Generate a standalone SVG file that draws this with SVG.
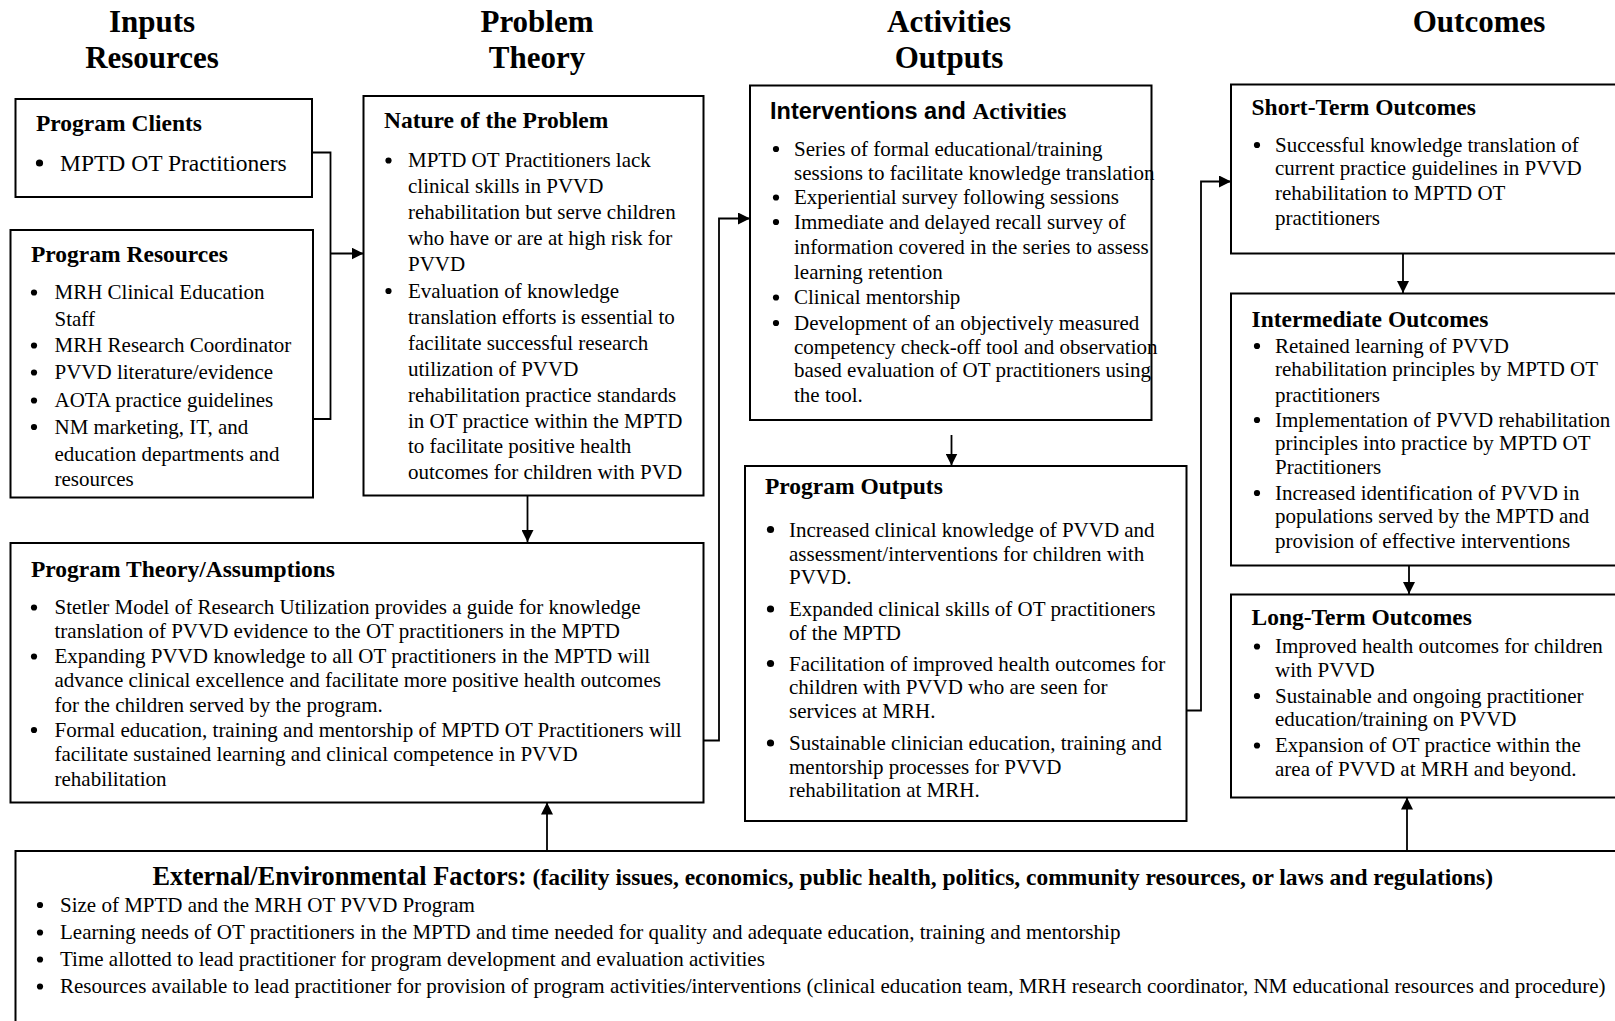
<svg xmlns="http://www.w3.org/2000/svg" width="1615" height="1021" viewBox="0 0 1615 1021">
<style>
.box{fill:#fff;stroke:#000;stroke-width:2}
.hd{font-family:"Liberation Serif","Times New Roman",serif;font-weight:bold;font-size:31px;text-anchor:middle}
.t{font-family:"Liberation Serif","Times New Roman",serif;font-weight:bold;font-size:23.5px}
.b{font-family:"Liberation Serif","Times New Roman",serif;font-size:21px}
.c{fill:none;stroke:#000;stroke-width:1.8}
</style>
<defs>
<marker id="ah" viewBox="0 0 10 10" refX="10" refY="5" markerWidth="12" markerHeight="12" markerUnits="userSpaceOnUse" orient="auto">
<path d="M0,0 L10,5 L0,10 z" fill="#000"/>
</marker>
<circle id="bu" r="3.1" fill="#000"/>
<circle id="bl" r="3.6" fill="#000"/>
</defs>
<rect width="1615" height="1021" fill="#fff"/>

<g id="headings">
<text class="hd" x="152" y="32">Inputs</text>
<text class="hd" x="152" y="68">Resources</text>
<text class="hd" x="537" y="32">Problem</text>
<text class="hd" x="537" y="68">Theory</text>
<text class="hd" x="949" y="32">Activities</text>
<text class="hd" x="949" y="68">Outputs</text>
<text class="hd" x="1479" y="32">Outcomes</text>
</g>

<g id="connectors">
<polyline class="c" points="313,152.5 330.5,152.5 330.5,419 313,419"/>
<line class="c" x1="330.5" y1="253.5" x2="363.5" y2="253.5" marker-end="url(#ah)"/>
<line class="c" x1="527.5" y1="495.5" x2="527.5" y2="542" marker-end="url(#ah)"/>
<polyline class="c" points="703.5,740.5 719,740.5 719,218.5 750,218.5" marker-end="url(#ah)"/>
<line class="c" x1="951.5" y1="435" x2="951.5" y2="465.5" marker-end="url(#ah)"/>
<polyline class="c" points="1186.5,710.5 1201,710.5 1201,181.5 1231,181.5" marker-end="url(#ah)"/>
<line class="c" x1="1403" y1="253.5" x2="1403" y2="293" marker-end="url(#ah)"/>
<line class="c" x1="1409" y1="565.5" x2="1409" y2="594" marker-end="url(#ah)"/>
<line class="c" x1="1407" y1="851" x2="1407" y2="797.5" marker-end="url(#ah)"/>
<line class="c" x1="547" y1="851" x2="547" y2="802.5" marker-end="url(#ah)"/>
</g>

<g id="program-clients">
<rect class="box" x="15.5" y="99" width="296.5" height="98"/>
<text class="t" x="36" y="131">Program Clients</text>
<use href="#bl" x="39.5" y="163"/>
<text class="b" x="60" y="171" style="font-size:23.5px">MPTD OT Practitioners</text>
</g>

<g id="program-resources">
<rect class="box" x="10.5" y="230" width="302.5" height="267.5"/>
<text class="t" x="31" y="262">Program Resources</text>
<use href="#bu" x="34" y="292.5"/><use href="#bu" x="34" y="345.5"/><use href="#bu" x="34" y="372.5"/><use href="#bu" x="34" y="400.5"/><use href="#bu" x="34" y="427"/>
<g class="b">
<text x="54.5" y="299">MRH Clinical Education</text>
<text x="54.5" y="325.5">Staff</text>
<text x="54.5" y="352">MRH Research Coordinator</text>
<text x="54.5" y="379">PVVD literature/evidence</text>
<text x="54.5" y="407">AOTA practice guidelines</text>
<text x="54.5" y="433.5">NM marketing, IT, and</text>
<text x="54.5" y="460.5">education departments and</text>
<text x="54.5" y="486">resources</text>
</g>
</g>

<g id="nature-of-problem">
<rect class="box" x="363.5" y="96" width="340" height="399.5"/>
<text class="t" x="384" y="128">Nature of the Problem</text>
<use href="#bu" x="388.5" y="160.5"/><use href="#bu" x="388.5" y="291"/>
<g class="b">
<text x="408" y="167">MPTD OT Practitioners lack</text>
<text x="408" y="193">clinical skills in PVVD</text>
<text x="408" y="219">rehabilitation but serve children</text>
<text x="408" y="245">who have or are at high risk for</text>
<text x="408" y="271">PVVD</text>
<text x="408" y="297.5">Evaluation of knowledge</text>
<text x="408" y="323.5">translation efforts is essential to</text>
<text x="408" y="349.5">facilitate successful research</text>
<text x="408" y="375.5">utilization of PVVD</text>
<text x="408" y="401.5">rehabilitation practice standards</text>
<text x="408" y="427.5">in OT practice within the MPTD</text>
<text x="408" y="453">to facilitate positive health</text>
<text x="408" y="479">outcomes for children with PVD</text>
</g>
</g>

<g id="program-theory">
<rect class="box" x="10.5" y="543" width="693" height="259.5"/>
<text class="t" x="31" y="577">Program Theory/Assumptions</text>
<use href="#bu" x="34" y="607.5"/><use href="#bu" x="34" y="656.5"/><use href="#bu" x="34" y="730"/>
<g class="b">
<text x="54.5" y="614">Stetler Model of Research Utilization provides a guide for knowledge</text>
<text x="54.5" y="638">translation of PVVD evidence to the OT practitioners in the MPTD</text>
<text x="54.5" y="663">Expanding PVVD knowledge to all OT practitioners in the MPTD will</text>
<text x="54.5" y="687">advance clinical excellence and facilitate more positive health outcomes</text>
<text x="54.5" y="711.5">for the children served by the program.</text>
<text x="54.5" y="736.5">Formal education, training and mentorship of MPTD OT Practitioners will</text>
<text x="54.5" y="761">facilitate sustained learning and clinical competence in PVVD</text>
<text x="54.5" y="786">rehabilitation</text>
</g>
</g>

<g id="interventions-activities">
<rect class="box" x="750" y="85.5" width="401.5" height="334.5"/>
<text class="t" x="770" y="118.5"><tspan style="font-family:'Liberation Sans',Arial,sans-serif">Interventions and </tspan>Activities</text>
<use href="#bu" x="776" y="149"/><use href="#bu" x="776" y="197.5"/><use href="#bu" x="776" y="222"/><use href="#bu" x="776" y="297.5"/><use href="#bu" x="776" y="323"/>
<g class="b">
<text x="794" y="155.5">Series of formal educational/training</text>
<text x="794" y="179.5">sessions to facilitate knowledge translation</text>
<text x="794" y="204">Experiential survey following sessions</text>
<text x="794" y="228.5">Immediate and delayed recall survey of</text>
<text x="794" y="253.5">information covered in the series to assess</text>
<text x="794" y="279">learning retention</text>
<text x="794" y="304">Clinical mentorship</text>
<text x="794" y="329.5">Development of an objectively measured</text>
<text x="794" y="353.5">competency check-off tool and observation</text>
<text x="794" y="377">based evaluation of OT practitioners using</text>
<text x="794" y="401.5">the tool.</text>
</g>
</g>

<g id="program-outputs">
<rect class="box" x="745" y="466" width="441.5" height="355"/>
<text class="t" x="765" y="493.5">Program Outputs</text>
<use href="#bl" x="770.5" y="529.5"/><use href="#bl" x="770.5" y="609"/><use href="#bl" x="770.5" y="663.5"/><use href="#bl" x="770.5" y="743"/>
<g class="b">
<text x="789" y="536.5">Increased clinical knowledge of PVVD and</text>
<text x="789" y="560.5">assessment/interventions for children with</text>
<text x="789" y="584">PVVD.</text>
<text x="789" y="616">Expanded clinical skills of OT practitioners</text>
<text x="789" y="639.5">of the MPTD</text>
<text x="789" y="670.5">Facilitation of improved health outcomes for</text>
<text x="789" y="694">children with PVVD who are seen for</text>
<text x="789" y="718">services at MRH.</text>
<text x="789" y="750">Sustainable clinician education, training and</text>
<text x="789" y="773.5">mentorship processes for PVVD</text>
<text x="789" y="797">rehabilitation at MRH.</text>
</g>
</g>

<g id="short-term-outcomes">
<rect class="box" x="1231" y="84.5" width="400" height="169"/>
<text class="t" x="1251.5" y="114.5">Short-Term Outcomes</text>
<use href="#bu" x="1257" y="145"/>
<g class="b">
<text x="1275" y="151.5">Successful knowledge translation of</text>
<text x="1275" y="175">current practice guidelines in PVVD</text>
<text x="1275" y="200">rehabilitation to MPTD OT</text>
<text x="1275" y="224.5">practitioners</text>
</g>
</g>

<g id="intermediate-outcomes">
<rect class="box" x="1231" y="293.5" width="400" height="272"/>
<text class="t" x="1251.5" y="326.5">Intermediate Outcomes</text>
<use href="#bu" x="1257" y="346"/><use href="#bu" x="1257" y="420"/><use href="#bu" x="1257" y="493"/>
<g class="b">
<text x="1275" y="352.5">Retained learning of PVVD</text>
<text x="1275" y="376">rehabilitation principles by MPTD OT</text>
<text x="1275" y="401.5">practitioners</text>
<text x="1275" y="426.5">Implementation of PVVD rehabilitation</text>
<text x="1275" y="450">principles into practice by MPTD OT</text>
<text x="1275" y="474">Practitioners</text>
<text x="1275" y="499.5">Increased identification of PVVD in</text>
<text x="1275" y="523">populations served by the MPTD and</text>
<text x="1275" y="548">provision of effective interventions</text>
</g>
</g>

<g id="long-term-outcomes">
<rect class="box" x="1231" y="594.5" width="400" height="203"/>
<text class="t" x="1251.5" y="625">Long-Term Outcomes</text>
<use href="#bu" x="1257" y="646.5"/><use href="#bu" x="1257" y="696"/><use href="#bu" x="1257" y="745.5"/>
<g class="b">
<text x="1275" y="653">Improved health outcomes for children</text>
<text x="1275" y="677">with PVVD</text>
<text x="1275" y="702.5">Sustainable and ongoing practitioner</text>
<text x="1275" y="726">education/training on PVVD</text>
<text x="1275" y="752">Expansion of OT practice within the</text>
<text x="1275" y="775.5">area of PVVD at MRH and beyond.</text>
</g>
</g>

<g id="external-factors">
<rect class="box" x="15.5" y="851" width="1620" height="200"/>
<text class="t" x="152.5" y="885"><tspan style="font-size:26.3px">External/Environmental Factors:</tspan> (facility issues, economics, public health, politics, community resources, or laws and regulations)</text>
<use href="#bu" x="40" y="905"/><use href="#bu" x="40" y="932.5"/><use href="#bu" x="40" y="959.5"/><use href="#bu" x="40" y="986.5"/>
<g class="b">
<text x="60" y="911.5">Size of MPTD and the MRH OT PVVD Program</text>
<text x="60" y="939">Learning needs of OT practitioners in the MPTD and time needed for quality and adequate education, training and mentorship</text>
<text x="60" y="966">Time allotted to lead practitioner for program development and evaluation activities</text>
<text x="60" y="993">Resources available to lead practitioner for provision of program activities/interventions (clinical education team, MRH research coordinator, NM educational resources and procedure)</text>
</g>
</g>
</svg>
